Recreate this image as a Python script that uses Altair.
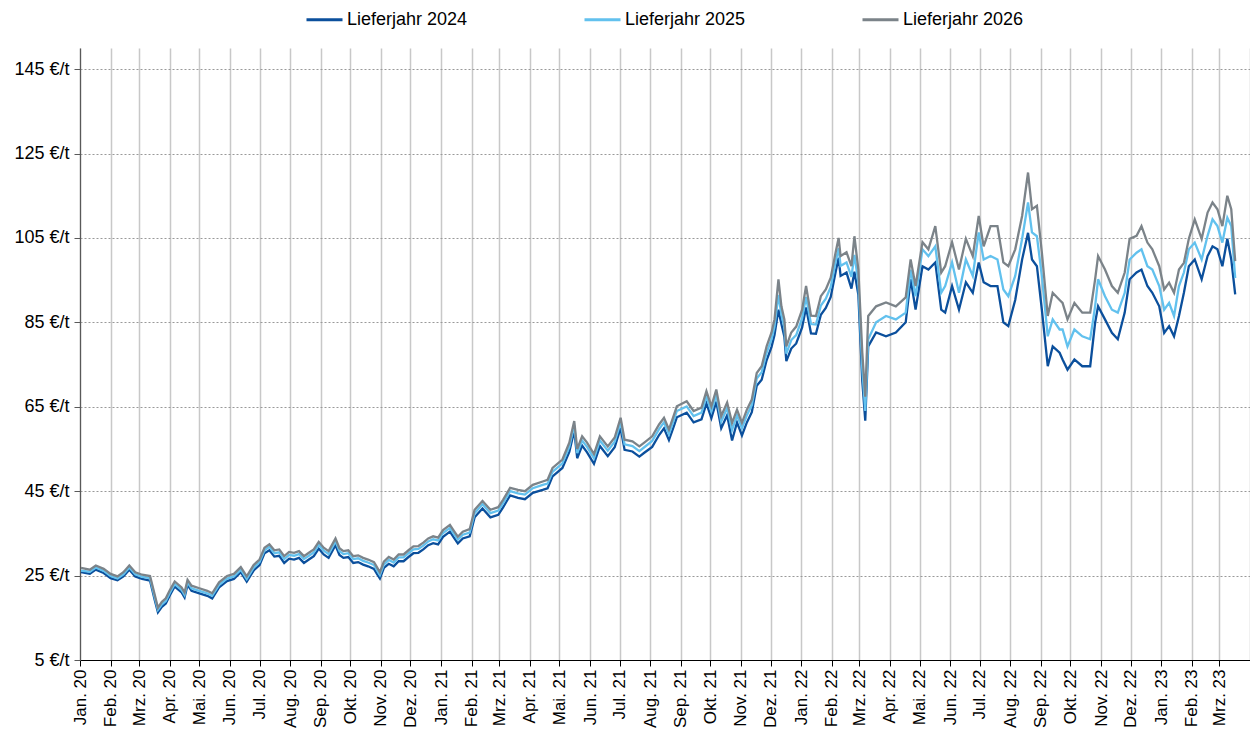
import altair as alt
import pandas as pd

SERIES = ["Lieferjahr 2024", "Lieferjahr 2025", "Lieferjahr 2026"]
COLORS = ["#0b4f9c", "#62c1ee", "#7b8389"]
MONTHS_DE = ["Jan.", "Feb.", "Mrz.", "Apr.", "Mai.", "Jun.", "Jul.", "Aug.", "Sep.", "Okt.", "Nov.", "Dez."]
Y_TICKS = [5, 25, 45, 65, 85, 105, 125, 145]

dates = [
    "2020-01-02", "2020-01-11", "2020-01-17", "2020-01-25", "2020-02-01", "2020-02-08", "2020-02-14", "2020-02-20",
    "2020-02-26", "2020-03-04", "2020-03-12", "2020-03-17", "2020-03-20", "2020-03-24", "2020-03-28", "2020-04-01",
    "2020-04-06", "2020-04-13", "2020-04-16", "2020-04-19", "2020-04-23", "2020-05-01", "2020-05-09", "2020-05-14",
    "2020-05-21", "2020-05-29", "2020-06-05", "2020-06-12", "2020-06-18", "2020-06-25", "2020-07-01", "2020-07-06",
    "2020-07-11", "2020-07-16", "2020-07-21", "2020-07-26", "2020-07-31", "2020-08-05", "2020-08-10", "2020-08-15",
    "2020-08-20", "2020-08-25", "2020-08-30", "2020-09-04", "2020-09-09", "2020-09-16", "2020-09-20", "2020-09-24",
    "2020-09-29", "2020-10-04", "2020-10-09", "2020-10-14", "2020-10-19", "2020-10-25", "2020-10-28", "2020-10-31",
    "2020-11-04", "2020-11-09", "2020-11-14", "2020-11-19", "2020-11-24", "2020-11-29", "2020-12-04", "2020-12-09",
    "2020-12-14", "2020-12-19", "2020-12-24", "2020-12-29",
    "2021-01-03", "2021-01-10", "2021-01-14", "2021-01-18", "2021-01-23", "2021-01-30", "2021-02-04", "2021-02-12",
    "2021-02-20", "2021-02-28", "2021-03-05", "2021-03-12", "2021-03-20", "2021-03-27", "2021-04-04", "2021-04-14",
    "2021-04-19", "2021-04-24", "2021-05-04", "2021-05-11", "2021-05-16", "2021-05-19", "2021-05-24", "2021-05-29",
    "2021-06-05", "2021-06-11", "2021-06-19", "2021-06-26", "2021-07-02", "2021-07-06", "2021-07-14", "2021-07-21",
    "2021-07-26", "2021-08-03", "2021-08-10", "2021-08-15", "2021-08-20", "2021-08-25", "2021-08-28", "2021-09-07",
    "2021-09-14", "2021-09-22", "2021-09-27", "2021-10-02", "2021-10-07", "2021-10-12", "2021-10-18", "2021-10-23",
    "2021-10-28", "2021-11-02", "2021-11-07", "2021-11-12", "2021-11-17", "2021-11-22", "2021-11-27", "2021-12-02",
    "2021-12-05", "2021-12-09", "2021-12-12", "2021-12-15", "2021-12-17", "2021-12-22", "2021-12-27",
    "2022-01-02", "2022-01-06", "2022-01-11", "2022-01-16", "2022-01-21", "2022-01-26", "2022-01-31", "2022-02-05",
    "2022-02-08", "2022-02-10", "2022-02-16", "2022-02-21", "2022-02-24", "2022-02-28", "2022-03-04", "2022-03-07",
    "2022-03-10", "2022-03-18", "2022-03-28", "2022-04-07", "2022-04-17", "2022-04-22", "2022-04-27", "2022-05-04",
    "2022-05-10", "2022-05-17", "2022-05-23", "2022-05-27", "2022-06-03", "2022-06-10", "2022-06-17", "2022-06-24",
    "2022-06-30", "2022-07-05", "2022-07-12", "2022-07-19", "2022-07-25", "2022-07-30", "2022-08-06", "2022-08-13",
    "2022-08-19", "2022-08-23", "2022-08-28", "2022-09-02", "2022-09-08", "2022-09-13", "2022-09-20", "2022-09-23",
    "2022-09-28", "2022-10-05", "2022-10-13", "2022-10-21", "2022-10-26", "2022-10-29", "2022-11-05", "2022-11-12",
    "2022-11-18", "2022-11-25", "2022-11-30", "2022-12-07", "2022-12-12", "2022-12-18", "2022-12-23", "2022-12-30",
    "2023-01-04", "2023-01-09", "2023-01-14", "2023-01-19", "2023-01-24", "2023-01-29", "2023-02-04", "2023-02-11",
    "2023-02-17", "2023-02-22", "2023-02-27", "2023-03-04", "2023-03-09", "2023-03-13", "2023-03-17",
]

y2026 = [
    26.8, 26.4, 27.4, 26.6, 25.4, 24.8, 25.8, 27.4, 25.8, 25.2, 24.9, 20.2, 17.4, 18.8, 19.6, 21.5,
    23.6, 22.2, 21.0, 24.0, 22.6, 22.0, 21.4, 20.8, 23.4, 24.9, 25.4, 27.0, 24.8, 27.5, 28.8, 31.6,
    32.4, 31.0, 31.2, 29.6, 30.6, 30.4, 30.8, 29.6, 30.4, 31.2, 33.0, 31.6, 30.8, 33.8, 31.5, 30.8,
    31.0, 29.6, 29.8, 29.2, 28.8, 28.2, 27.0, 25.8, 28.3, 29.4, 28.8, 30.0, 30.0, 31.0, 31.9, 32.0,
    32.8, 33.8, 34.3, 34.0,
    35.8, 37.0, 35.6, 34.2, 35.4, 36.0, 40.6, 42.7, 40.6, 41.2, 43.0, 45.8, 45.3, 45.0, 46.5, 47.3,
    47.7, 50.5, 52.5, 56.5, 61.6, 55.0, 58.0, 56.5, 53.8, 58.0, 55.6, 57.7, 62.4, 57.2, 56.8, 55.6,
    56.5, 58.0, 60.8, 62.4, 59.6, 63.0, 65.1, 66.3, 64.0, 64.8, 68.7, 65.1, 69.1, 62.8, 66.0, 61.2,
    64.3, 61.2, 64.3, 66.7, 73.0, 74.6, 79.3, 82.6, 85.7, 95.2, 88.8, 85.7, 79.3, 82.6, 84.0,
    88.0, 93.6, 86.6, 86.5, 91.2, 92.8, 95.6, 101.6, 105.0, 100.7, 101.6, 98.3, 105.4, 97.5, 77.8, 67.4,
    86.5, 88.8, 89.7, 88.8, 90.9, 99.9, 93.6, 104.0, 102.3, 107.8, 96.8, 98.3, 104.0, 97.5, 104.8, 100.7,
    110.2, 103.0, 107.8, 107.8, 99.2, 98.3, 102.3, 110.2, 120.5, 111.8, 112.6, 101.6, 86.5, 92.0, 90.3, 89.6,
    85.7, 89.6, 87.3, 87.3, 95.2, 100.7, 97.5, 93.6, 92.0, 96.8, 104.8, 105.5, 107.8, 103.9, 102.3, 98.3,
    92.8, 94.4, 92.0, 97.5, 99.1, 104.8, 109.4, 104.8, 111.0, 113.4, 111.8, 107.8, 115.0, 111.8, 99.5,
]

y2025 = [
    26.2, 25.9, 26.9, 26.1, 24.9, 24.3, 25.3, 26.9, 25.3, 24.7, 24.4, 19.6, 16.9, 18.2, 19.0, 20.9,
    23.0, 21.6, 20.4, 23.4, 22.0, 21.4, 20.8, 20.2, 22.8, 24.3, 24.8, 26.4, 24.2, 26.9, 28.2, 31.0,
    31.8, 30.3, 30.5, 28.9, 29.9, 29.7, 30.1, 28.9, 29.7, 30.5, 32.3, 30.9, 30.1, 33.1, 30.8, 30.1,
    30.3, 28.9, 29.1, 28.5, 28.1, 27.5, 26.3, 25.1, 27.6, 28.7, 28.1, 29.3, 29.3, 30.3, 31.2, 31.3,
    32.1, 33.1, 33.6, 33.3,
    35.1, 36.3, 34.9, 33.5, 34.7, 35.2, 39.8, 41.9, 39.8, 40.4, 42.2, 45.0, 44.5, 44.2, 45.7, 46.5,
    46.8, 49.6, 51.6, 55.5, 60.6, 54.0, 57.0, 55.5, 52.8, 57.0, 54.6, 56.7, 61.3, 56.1, 55.7, 54.5,
    55.4, 56.9, 59.7, 61.3, 58.5, 61.9, 64.0, 65.1, 62.8, 63.6, 67.4, 63.9, 67.8, 61.5, 64.7, 59.5,
    63.0, 59.9, 63.0, 65.4, 71.7, 73.2, 77.8, 81.0, 84.0, 91.5, 86.8, 83.8, 77.6, 80.8, 82.0,
    86.0, 91.0, 84.6, 84.5, 89.0, 90.6, 93.4, 99.4, 102.6, 98.4, 99.2, 95.8, 101.0, 94.5, 74.0, 64.0,
    81.0, 85.0, 86.5, 85.7, 87.3, 97.5, 91.2, 102.3, 100.7, 103.0, 92.0, 93.6, 99.2, 92.0, 99.9, 96.0,
    106.3, 99.9, 100.7, 99.9, 92.8, 91.2, 96.0, 104.8, 113.4, 106.3, 105.4, 96.0, 81.7, 85.7, 83.3, 83.3,
    79.3, 83.3, 81.7, 81.0, 88.8, 95.2, 91.2, 88.0, 87.3, 92.0, 99.9, 101.5, 102.3, 98.3, 97.5, 93.6,
    88.0, 89.6, 86.5, 93.6, 96.8, 102.3, 103.9, 99.9, 105.5, 109.4, 107.8, 103.9, 109.8, 107.8, 95.5,
]

y2024 = [
    25.8, 25.4, 26.4, 25.6, 24.4, 23.9, 24.8, 26.4, 24.8, 24.2, 23.8, 19.0, 16.3, 17.6, 18.4, 20.3,
    22.4, 21.0, 19.8, 22.8, 21.4, 20.8, 20.2, 19.6, 22.2, 23.7, 24.2, 25.8, 23.6, 26.2, 27.5, 30.3,
    31.0, 29.5, 29.7, 28.0, 29.0, 28.8, 29.2, 28.0, 28.8, 29.6, 31.4, 30.0, 29.2, 32.2, 29.9, 29.2,
    29.4, 28.0, 28.2, 27.6, 27.2, 26.6, 25.4, 24.3, 26.8, 27.8, 27.2, 28.4, 28.4, 29.4, 30.3, 30.4,
    31.2, 32.2, 32.7, 32.4,
    34.2, 35.4, 34.0, 32.6, 33.8, 34.3, 38.8, 40.9, 38.8, 39.4, 41.2, 44.0, 43.4, 43.1, 44.6, 45.3,
    45.7, 48.5, 50.5, 54.3, 59.4, 52.8, 55.8, 54.2, 51.5, 55.7, 53.3, 55.4, 60.0, 54.8, 54.4, 53.2,
    54.1, 55.5, 58.3, 59.9, 57.1, 60.4, 62.5, 63.6, 61.3, 62.0, 65.8, 62.3, 66.2, 59.9, 63.0, 57.0,
    61.3, 58.2, 61.3, 63.7, 70.0, 71.4, 76.0, 79.2, 82.0, 88.0, 84.6, 81.6, 75.8, 78.8, 80.0,
    83.8, 88.5, 82.4, 82.3, 86.8, 88.4, 91.0, 97.0, 100.3, 96.0, 96.8, 93.0, 97.0, 91.5, 71.0, 61.7,
    79.3, 82.6, 81.7, 82.6, 85.0, 95.2, 88.0, 98.3, 97.5, 99.2, 88.0, 87.3, 93.6, 88.0, 94.5, 92.0,
    99.2, 94.5, 93.6, 93.6, 85.0, 84.1, 90.3, 99.9, 106.2, 99.9, 98.3, 88.0, 74.6, 79.3, 77.8, 76.2,
    73.8, 76.2, 74.6, 74.6, 84.9, 88.8, 85.7, 82.5, 81.0, 87.3, 95.2, 96.8, 97.5, 93.6, 92.0, 88.8,
    82.5, 84.1, 81.7, 86.5, 92.0, 98.3, 99.9, 95.2, 100.7, 103.0, 102.3, 98.3, 104.8, 99.9, 91.6,
]

rows = []
for name, vals in zip(SERIES, [y2024, y2025, y2026]):
    for d, v in zip(dates, vals):
        rows.append({"Datum": d, "Wert": v, "Serie": name})
df = pd.DataFrame(rows)

x_ticks = []
for yr in [2020, 2021, 2022, 2023]:
    for m in range(1, 13):
        if yr == 2023 and m > 4:
            break
        x_ticks.append(alt.DateTime(year=yr, month=m, date=1, utc=True))

month_arr = "[" + ",".join("'" + m + "'" for m in MONTHS_DE) + "]"
label_expr = (
    "datum.value >= datetime(2023,3,1) ? '' : "
    + month_arr + "[utcmonth(datum.value)] + ' ' + utcFormat(datum.value, '%y')"
)

FONT = "Liberation Sans"

chart = alt.Chart(df).mark_line(strokeWidth=2.3, interpolate="linear").encode(
    x=alt.X(
        "Datum:T",
        scale=alt.Scale(
            type="utc",
            domain=[alt.DateTime(year=2020, month=1, date=1, utc=True),
                    alt.DateTime(year=2023, month=4, date=1, utc=True)],
            nice=False,
        ),
        axis=alt.Axis(
            values=x_ticks,
            labelExpr=label_expr,
            labelAngle=-90,
            labelAlign="right",
            labelBaseline="middle",
            labelPadding=3,
            labelFont=FONT,
            labelFontSize=17,
            labelColor="#000000",
            labelOverlap=False,
            tickColor="#000000",
            tickSize=6,
            domainColor="#000000",
            domainWidth=1.2,
            grid=True,
            gridColor="#c8c8c8",
            gridWidth=1.5,
            title=None,
        ),
    ),
    y=alt.Y(
        "Wert:Q",
        scale=alt.Scale(domain=[5, 150], nice=False, zero=False),
        axis=alt.Axis(
            values=Y_TICKS,
            labelExpr="datum.value + ' €/t'",
            labelFont=FONT,
            labelFontSize=18,
            labelColor="#000000",
            labelPadding=5,
            tickColor="#595959",
            tickSize=6,
            domainColor="#595959",
            domainWidth=1.2,
            grid=True,
            gridColor="#999999",
            gridDash=[2, 2],
            gridWidth=1,
            title=None,
        ),
    ),
    color=alt.Color(
        "Serie:N",
        scale=alt.Scale(domain=SERIES, range=COLORS),
        legend=alt.Legend(
            title=None,
            orient="none",
            direction="horizontal",
            legendX=225,
            legendY=-48,
            symbolType="stroke",
            symbolSize=1296,
            symbolStrokeWidth=3,
            labelFont=FONT,
            labelFontSize=18,
            labelColor="#000000",
            labelOffset=3,
            columnPadding=110,
        ),
    ),
).properties(
    width=1170,
    height=612,
    autosize=alt.AutoSizeParams(type="none"),
    padding={"left": 72, "top": 40, "right": 0, "bottom": 70},
).configure_view(stroke=None)

chart.save("out.html", embed_options={"renderer": "svg", "actions": False})
